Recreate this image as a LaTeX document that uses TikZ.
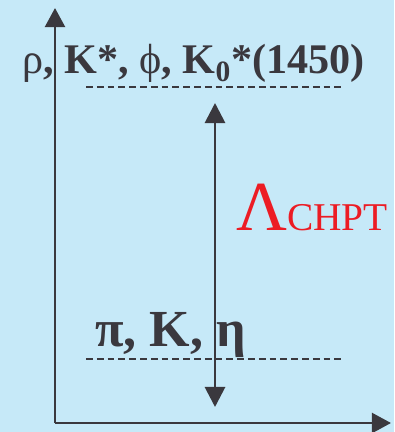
\documentclass[tikz,border=0pt]{standalone}
\usepackage{fontspec}
\setmainfont{Liberation Serif}
\usetikzlibrary{arrows.meta}
\definecolor{bgblue}{RGB}{198,233,248}
\definecolor{ink}{RGB}{58,56,62}
\definecolor{lamred}{RGB}{236,28,36}
\tikzset{
  axis/.style={ink, line width=2pt, -{Triangle[width=0.5cm,length=0.48cm]}},
  level/.style={ink, line width=1pt, dash pattern=on 0.17cm off 0.1cm},
  scalearrow/.style={ink, line width=2pt, {Triangle[width=0.5cm,length=0.5cm]}-{Triangle[width=0.5cm,length=0.5cm]}},
  mesons/.style={ink, inner sep=0pt, anchor=base west, font=\bfseries}
}
\begin{document}
\begin{tikzpicture}[x=0.025cm, y=-0.025cm]

  % -- background --
  \fill[bgblue] (0,0) rectangle (394,432);
  \useasboundingbox (0,0) rectangle (394,432);

  % -- axes --
  \coordinate (origin) at (55,423);
  \coordinate (ytip) at (55,8);
  \coordinate (xtip) at (391,423);
  \draw[axis] (origin) -- (ytip);
  \draw[axis] (origin) -- (xtip);

  % -- heavy states --
  \node[mesons, font=\bfseries\fontsize{30}{35}\selectfont] (heavy) at (22,74)
    {{\mdseries ρ}, K*, {\mdseries ϕ}, K\textsubscript{0}*(1450)};
  \coordinate (heavyL) at (86,87);
  \coordinate (heavyR) at (343,87);
  \draw[level] (heavyL) -- (heavyR);

  % -- light states --
  \node[mesons, font=\bfseries\fontsize{37}{42}\selectfont] (light) at (95,346) {π, K, η};
  \coordinate (lightL) at (86,359);
  \coordinate (lightR) at (343,359);
  \draw[level] (lightL) -- (lightR);

  % -- scale arrow --
  \coordinate (top) at (215,103);
  \coordinate (bot) at (215,407);
  \draw[scalearrow] (bot) -- (top);

  % Lambda label
  \node[lamred, inner sep=0pt, anchor=base west] (lambda) at (236,230)
    {\fontsize{50}{56}\selectfont Λ\fontsize{28}{32}\selectfont CHPT};

\end{tikzpicture}
\end{document}
